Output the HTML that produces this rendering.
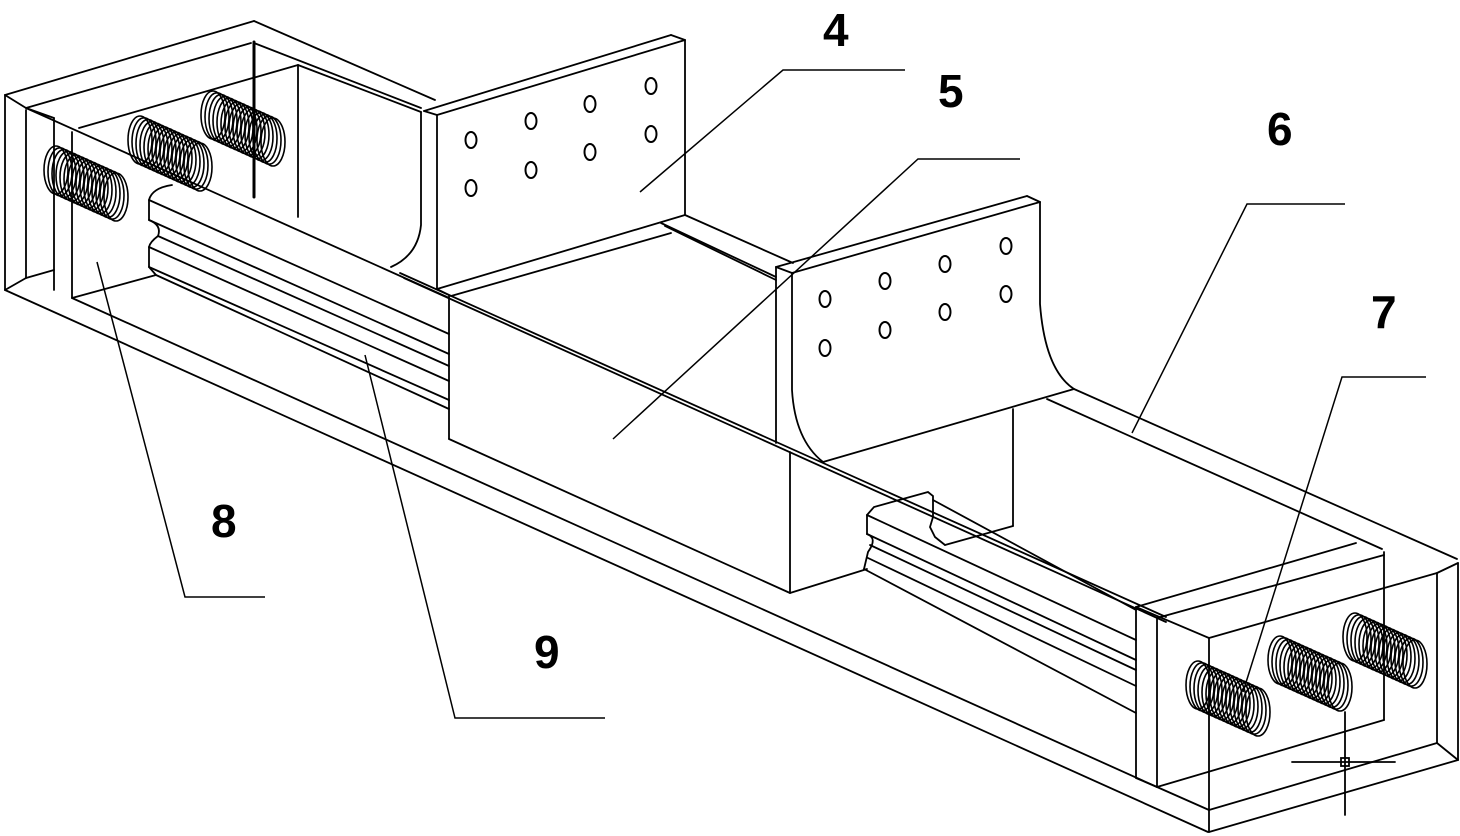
<!DOCTYPE html>
<html><head><meta charset="utf-8"><style>
html,body{margin:0;padding:0;background:#fff;}
svg{display:block;}
text{font-family:"Liberation Sans",Arial,sans-serif;font-size:46px;font-weight:bold;fill:#000;}
</style></head><body>
<svg width="1460" height="836" viewBox="0 0 1460 836" xmlns="http://www.w3.org/2000/svg">
<defs>
<g id="spring" fill="none" stroke="#000" stroke-width="1.6">
<ellipse cx="0" cy="0" rx="12" ry="24"/>
<ellipse cx="4" cy="1.8" rx="12" ry="24"/>
<ellipse cx="8" cy="3.6" rx="12" ry="24"/>
<ellipse cx="12" cy="5.4" rx="12" ry="24"/>
<ellipse cx="16" cy="7.2" rx="12" ry="24"/>
<ellipse cx="20" cy="9" rx="12" ry="24"/>
<ellipse cx="24" cy="10.8" rx="12" ry="24"/>
<ellipse cx="28" cy="12.6" rx="12" ry="24"/>
<ellipse cx="32" cy="14.4" rx="12" ry="24"/>
<ellipse cx="36" cy="16.2" rx="12" ry="24"/>
<ellipse cx="40" cy="18" rx="12" ry="24"/>
<ellipse cx="44" cy="19.8" rx="12" ry="24"/>
<ellipse cx="48" cy="21.6" rx="12" ry="24"/>
<ellipse cx="52" cy="23.4" rx="12" ry="24"/>
<ellipse cx="56" cy="25.2" rx="12" ry="24"/>
<ellipse cx="60" cy="27" rx="12" ry="24"/>
</g>
</defs>
<g fill="none" stroke="#000" stroke-width="1.8" stroke-linecap="round">
<!-- left end box -->
<line x1="5" y1="95" x2="5" y2="290"/>
<line x1="26" y1="110" x2="26" y2="278"/>
<line x1="54" y1="118" x2="54" y2="290"/>
<line x1="72" y1="132" x2="72" y2="298"/>
<line x1="5" y1="95" x2="254" y2="21"/>
<line x1="26" y1="108" x2="251" y2="43"/>
<line x1="79" y1="128" x2="298" y2="65"/>
<line x1="254" y1="21" x2="435" y2="100"/>
<line x1="254" y1="43" x2="421" y2="108"/>
<line x1="298" y1="65" x2="421" y2="112"/>
<line x1="254" y1="42" x2="254" y2="197" stroke-width="3"/>
<line x1="298" y1="65" x2="298" y2="217"/>
<line x1="5" y1="95" x2="26" y2="108"/>
<line x1="26" y1="108" x2="54" y2="118"/>
<line x1="5" y1="290" x2="26" y2="278"/>
<line x1="26" y1="278" x2="54" y2="270"/>
<line x1="72" y1="298" x2="156" y2="275"/>
<!-- long base lines -->
<line x1="5" y1="290" x2="1208" y2="832"/>
<line x1="72" y1="298" x2="1157" y2="787"/>
<line x1="26" y1="108" x2="447" y2="297"/>
<line x1="400" y1="273" x2="1166" y2="617"/>
<line x1="404" y1="278" x2="1166" y2="622"/>
<!-- rail 9 left -->
<path d="M149 200 Q152 188 172 185"/>
<line x1="149" y1="200" x2="149" y2="220"/>
<path d="M149 220 Q162 225 158 236 Q150 242 149 247"/>
<line x1="149" y1="247" x2="149" y2="267"/>
<line x1="149" y1="267" x2="156" y2="275"/>
<line x1="149" y1="200" x2="449" y2="334"/>
<line x1="149" y1="220" x2="449" y2="354"/>
<line x1="158" y1="236" x2="449" y2="366"/>
<line x1="149" y1="247" x2="449" y2="381"/>
<line x1="149" y1="267" x2="449" y2="400"/>
<line x1="156" y1="275" x2="449" y2="409"/>
<!-- plate 4 -->
<line x1="424" y1="111" x2="671" y2="35"/>
<line x1="437" y1="115" x2="685" y2="40"/>
<line x1="424" y1="111" x2="437" y2="115"/>
<line x1="671" y1="35" x2="685" y2="40"/>
<line x1="685" y1="40" x2="685" y2="215"/>
<line x1="437" y1="115" x2="437" y2="289"/>
<path d="M421 112 L421 225 Q418 255 391 267"/>
<line x1="437" y1="289" x2="685" y2="215"/>
<line x1="685" y1="215" x2="793" y2="263"/>
<line x1="661" y1="223" x2="776" y2="277"/>
<line x1="665" y1="226" x2="776" y2="280"/>
<line x1="451" y1="296" x2="671" y2="233"/>
<line x1="437" y1="289" x2="451" y2="296"/>
<!-- block 5 -->
<line x1="449" y1="296" x2="449" y2="439"/>
<line x1="449" y1="439" x2="790" y2="593"/>
<line x1="790" y1="452" x2="790" y2="593"/>
<line x1="790" y1="593" x2="867" y2="569"/>
<!-- plate 6 -->
<line x1="776" y1="267" x2="1027" y2="196"/>
<line x1="792" y1="273" x2="1040" y2="202"/>
<line x1="776" y1="267" x2="792" y2="273"/>
<line x1="1027" y1="196" x2="1040" y2="202"/>
<line x1="776" y1="267" x2="776" y2="443"/>
<path d="M792 273 L792 390 Q795 440 823 462"/>
<path d="M1040 202 L1040 304 Q1045 370 1074 389"/>
<line x1="1074" y1="389" x2="823" y2="462"/>
<line x1="1013" y1="409" x2="1013" y2="526"/>
<line x1="1013" y1="526" x2="945" y2="545"/>
<line x1="1074" y1="389" x2="1457" y2="559"/>
<line x1="1047" y1="399" x2="1382" y2="549"/>
<!-- rail right -->
<path d="M867 515 L867 534 Q878 538 868 552 L864 569"/>
<path d="M867 515 L874 507 L928 492 L933 496 L933 517 L930 527 L935 537 L945 545"/>
<line x1="867" y1="515" x2="1136" y2="640"/>
<line x1="867" y1="534" x2="1136" y2="660"/>
<line x1="870" y1="545" x2="1136" y2="670"/>
<line x1="868" y1="558" x2="1136" y2="686"/>
<line x1="864" y1="569" x2="1136" y2="713"/>
<line x1="933" y1="500" x2="1136" y2="610"/>
<!-- right end box -->
<line x1="1136" y1="607" x2="1136" y2="778"/>
<line x1="1157" y1="618" x2="1157" y2="787"/>
<line x1="1209" y1="638" x2="1209" y2="832"/>
<line x1="1136" y1="607" x2="1356" y2="543"/>
<line x1="1157" y1="618" x2="1384" y2="555"/>
<line x1="1384" y1="552" x2="1384" y2="720"/>
<line x1="1209" y1="638" x2="1437" y2="573"/>
<line x1="1437" y1="573" x2="1437" y2="743"/>
<line x1="1458" y1="563" x2="1458" y2="760"/>
<line x1="1209" y1="832" x2="1458" y2="760"/>
<line x1="1209" y1="810" x2="1437" y2="743"/>
<line x1="1157" y1="787" x2="1384" y2="720"/>
<line x1="1157" y1="787" x2="1209" y2="810"/>
<line x1="1136" y1="607" x2="1209" y2="638"/>
<line x1="1437" y1="573" x2="1458" y2="563"/>
<line x1="1437" y1="743" x2="1458" y2="760"/>
<line x1="1136" y1="778" x2="1157" y2="787"/>
<!-- cross mark -->
<line x1="1292" y1="762" x2="1395" y2="762"/>
<line x1="1345" y1="712" x2="1345" y2="815"/>
<rect x="1341" y="758" width="8" height="8"/>
</g>
<!-- holes -->
<g fill="none" stroke="#000" stroke-width="2">
<ellipse cx="471" cy="140" rx="5.5" ry="8"/><ellipse cx="471" cy="188" rx="5.5" ry="8"/>
<ellipse cx="531" cy="121" rx="5.5" ry="8"/><ellipse cx="531" cy="170" rx="5.5" ry="8"/>
<ellipse cx="590" cy="104" rx="5.5" ry="8"/><ellipse cx="590" cy="152" rx="5.5" ry="8"/>
<ellipse cx="651" cy="86" rx="5.5" ry="8"/><ellipse cx="651" cy="134" rx="5.5" ry="8"/>
<ellipse cx="825" cy="299" rx="5.5" ry="8"/><ellipse cx="825" cy="348" rx="5.5" ry="8"/>
<ellipse cx="885" cy="281" rx="5.5" ry="8"/><ellipse cx="885" cy="330" rx="5.5" ry="8"/>
<ellipse cx="945" cy="264" rx="5.5" ry="8"/><ellipse cx="945" cy="312" rx="5.5" ry="8"/>
<ellipse cx="1006" cy="246" rx="5.5" ry="8"/><ellipse cx="1006" cy="294" rx="5.5" ry="8"/>
</g>
<!-- springs -->
<use href="#spring" x="56" y="170"/>
<use href="#spring" x="140" y="140"/>
<use href="#spring" x="213" y="115"/>
<use href="#spring" x="1198" y="685"/>
<use href="#spring" x="1280" y="660"/>
<use href="#spring" x="1355" y="637"/>
<!-- leader lines -->
<g fill="none" stroke="#000" stroke-width="1.5">
<polyline points="640,192 783,70 905,70"/>
<polyline points="613,439 918,159 1020,159"/>
<polyline points="1132,433 1247,204 1345,204"/>
<polyline points="1243,692 1342,377 1426,377"/>
<polyline points="97,262 185,597 265,597"/>
<polyline points="365,355 455,718 605,718"/>
</g>
<text x="823" y="46">4</text>
<text x="938" y="107">5</text>
<text x="1267" y="145">6</text>
<text x="1371" y="328">7</text>
<text x="211" y="537">8</text>
<text x="534" y="668">9</text>
</svg>
</body></html>
